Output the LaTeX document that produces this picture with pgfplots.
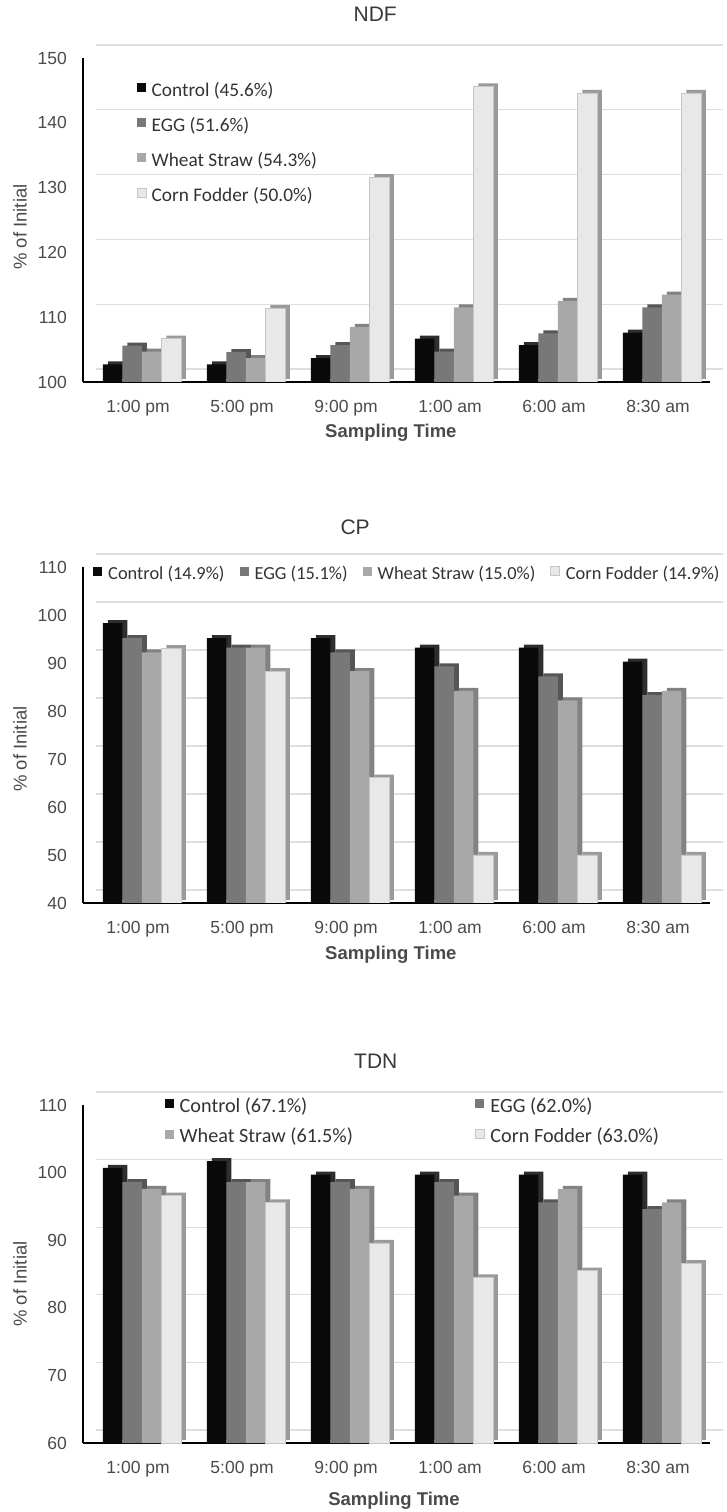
\documentclass[border=0pt]{standalone}
\usepackage{fontspec}
\setmainfont{Carlito}
\newfontfamily\arial{Liberation Sans}
\usepackage{pgfplots}
\usepackage{pgfplotstable}
\pgfplotsset{compat=1.18}

\definecolor{cC}{HTML}{0A0A0A}
\definecolor{cC2}{HTML}{2E2E2E}
\definecolor{cE}{HTML}{787878}
\definecolor{cE2}{HTML}{565656}
\definecolor{cW}{HTML}{A8A8A8}
\definecolor{cW2}{HTML}{828282}
\definecolor{cF}{HTML}{E8E8E8}
\definecolor{cF2}{HTML}{9A9A9A}
\definecolor{gridc}{HTML}{DEDEDE}
\definecolor{tickc}{HTML}{4A4A4A}
\definecolor{titlec}{HTML}{383838}
\definecolor{legc}{HTML}{333333}

\newcommand\tickfont{\arial\fontsize{17.5}{20}\selectfont}
\newcommand\labfont{\arial\fontsize{18.5}{21}\selectfont}
\newcommand\titfont{\arial\fontsize{21}{24}\selectfont}

\pgfplotstableread{
x C E W F
0 102.7 105.6 104.7 106.7
1 102.7 104.6 103.7 111.4
2 103.7 105.7 108.5 131.6
3 106.7 104.7 111.5 145.6
4 105.7 107.5 112.5 144.6
5 107.6 111.5 113.5 144.6
}\ndf

\pgfplotstableread{
x C E W F
0 98.3 95.2 92.2 93.1
1 95.2 93.2 93.2 88.3
2 95.2 92.2 88.3 66.1
3 93.2 89.3 84.2 50.0
4 93.2 87.2 82.2 50.0
5 90.3 83.3 84.2 50.0
}\cp

\pgfplotstableread{
x C E W F
0 100.7 98.6 97.6 96.6
1 101.7 98.6 98.6 95.6
2 99.7 98.6 97.6 89.6
3 99.7 98.6 96.6 84.5
4 99.7 95.6 97.6 85.5
5 99.7 94.6 95.6 86.6
}\tdn

\pgfplotsset{
  panel/.style={
    scale only axis, width=627pt, xmin=-0.53, xmax=5.5,
    clip mode=individual,
    axis x line*=bottom, axis y line*=left,
    x axis line style={line width=2.5pt, black},
    y axis line style={line width=1.5pt, black},
    major tick length=0pt,
    xtick={0,1,2,3,4,5},
    xticklabels={1:00 pm, 5:00 pm, 9:00 pm, 1:00 am, 6:00 am, 8:30 am},
    ytick distance=10,
    ymajorgrids,
    major grid style={draw=gridc, line width=1.2pt, xshift=13pt, yshift=13pt},
    /pgf/number format/assume math mode=true,
    tick label style={font=\tickfont, text=tickc, inner sep=0pt},
    yticklabel shift=16pt, xticklabel shift=18pt,
    ylabel={\% of Initial}, xlabel={Sampling Time},
    ylabel style={font=\labfont, text=tickc, anchor=center},
    xlabel style={font=\labfont\bfseries, text=tickc, anchor=center},
    title style={font=\titfont, text=titlec, anchor=center},
    legend image code/.code={\fill[##1] (0pt,-0.5pt) rectangle (9pt,8.5pt);},
    legend cell align=left,
  },
  front/.style={ybar, bar width=0.1875, draw=none},
  back/.style={ybar, bar width=0.1875, draw=none, xshift=5pt, yshift=3pt},
}

\newcommand\bars[1]{%
  \addplot[back, fill=cC2, bar shift=-0.245, forget plot] table[x=x,y=C]{#1};
  \addplot[front, fill=cC, bar shift=-0.245] table[x=x,y=C]{#1};
  \addplot[back, fill=cE2, bar shift=-0.0575, forget plot] table[x=x,y=E]{#1};
  \addplot[front, fill=cE, bar shift=-0.0575] table[x=x,y=E]{#1};
  \addplot[back, fill=cW2, bar shift=0.13, forget plot] table[x=x,y=W]{#1};
  \addplot[front, fill=cW, bar shift=0.13] table[x=x,y=W]{#1};
  \addplot[back, fill=cF2, bar shift=0.3175, forget plot] table[x=x,y=F]{#1};
  \addplot[front, fill=cF, draw=gray!45, line width=0.5pt, bar shift=0.3175] table[x=x,y=F]{#1};
}

\begin{document}
\begin{tikzpicture}
\useasboundingbox (0,0) rectangle (727pt,1512pt);

% NDF
\begin{axis}[panel, at={(83pt,1130pt)}, anchor=south west,
  height=324pt, ymin=100, ymax=150,
  title={NDF}, title style={at={(axis description cs:0.466,1.117)}},
  ylabel style={at={(axis description cs:-0.1005,0.478)}},
  xlabel style={at={(axis description cs:0.491,-0.157)}},
  legend style={at={(axis description cs:0.086,0.733)}, anchor=west,
    draw=none, fill=none, inner sep=0pt,
    font=\fontsize{19.3}{22}\selectfont, text=legc,
    nodes={inner sep=0pt, text height=13pt, text depth=4pt},
    row sep=18pt,
    /tikz/every odd column/.append style={column sep=5pt}},
]
\bars{\ndf}
\legend{Control (45.6\%), EGG (51.6\%), Wheat Straw (54.3\%), Corn Fodder (50.0\%)}
\end{axis}

% CP
\begin{axis}[panel, at={(83pt,609pt)}, anchor=south west,
  height=336pt, ymin=40, ymax=110,
  title={CP}, title style={at={(axis description cs:0.434,1.101)}},
  ylabel style={at={(axis description cs:-0.1005,0.458)}},
  xlabel style={at={(axis description cs:0.491,-0.155)}},
  legend columns=4,
  legend style={at={(axis description cs:0.016,0.976)}, anchor=west,
    draw=none, fill=none, inner sep=0pt,
    font=\fontsize{18.4}{21}\selectfont, text=legc,
    nodes={inner sep=0pt, text height=13pt, text depth=4pt},
    /tikz/every odd column/.append style={column sep=6pt},
    /tikz/every even column/.append style={column sep=15pt}},
]
\bars{\cp}
\legend{Control (14.9\%), EGG (15.1\%), Wheat Straw (15.0\%), Corn Fodder (14.9\%)}
\end{axis}

% TDN
\begin{axis}[panel, at={(83pt,69pt)}, anchor=south west,
  height=338pt, ymin=60, ymax=110,
  title={TDN}, title style={at={(axis description cs:0.467,1.112)}},
  ylabel style={at={(axis description cs:-0.1005,0.47)}},
  xlabel style={at={(axis description cs:0.496,-0.172)}},
  legend columns=2,
  legend style={at={(axis description cs:0.13,0.947)}, anchor=west,
    draw=none, fill=none, inner sep=0pt,
    font=\fontsize{20.2}{23}\selectfont, text=legc,
    nodes={inner sep=0pt, text height=13pt, text depth=4pt},
    row sep=13pt,
    /tikz/every odd column/.append style={column sep=6pt},
    /tikz/every even column/.append style={column sep=122pt}},
]
\bars{\tdn}
\legend{Control (67.1\%), EGG (62.0\%), Wheat Straw (61.5\%), Corn Fodder (63.0\%)}
\end{axis}
\end{tikzpicture}
\end{document}
